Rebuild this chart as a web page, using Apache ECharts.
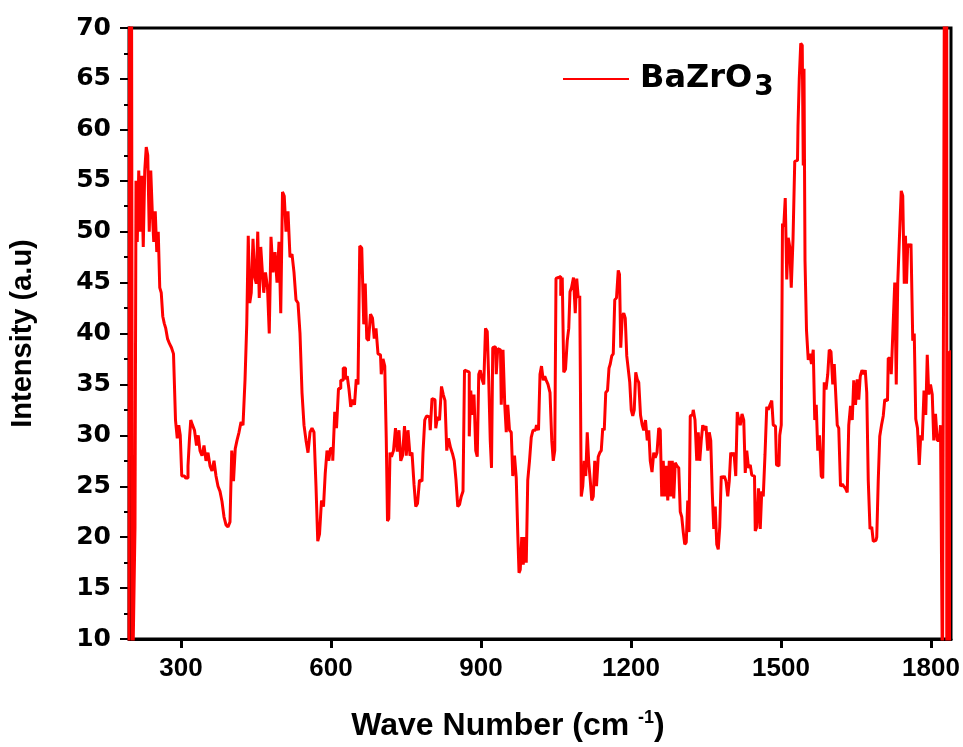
<!DOCTYPE html>
<html>
<head>
<meta charset="utf-8">
<script src="https://cdn.jsdelivr.net/npm/echarts@6/dist/echarts.min.js"></script>
<style>
  html, body { margin: 0; padding: 0; background: #fff; }
  #chart { width: 963px; height: 747px; }
</style>
</head>
<body>
<div id="chart"></div>
<script>
// wave number (cm-1)
const waveNumber = [
  196, 198, 200, 202, 204, 207, 209, 211, 214, 217, 220, 223, 226, 229, 232, 235, 238, 241, 244, 247,
  250, 253, 256, 259, 262, 265, 268, 271, 275, 279, 283, 287, 291, 294, 297, 300, 303, 307, 312, 316,
  318, 321, 325, 329, 333, 336, 340, 344, 348, 352, 356, 360, 364, 368, 372, 376, 380, 384, 388, 392,
  396, 400, 403, 407, 410, 414, 418, 422, 426, 430, 433, 436, 439, 442, 446, 449, 452, 455, 458, 461,
  464, 467, 471, 475, 478, 482, 486, 490, 494, 498, 501, 505, 508, 512, 516, 520, 524, 528, 532, 536,
  540, 544, 548, 552, 556, 560, 564, 568, 572, 575, 579, 583, 587, 590, 594, 597,
  601, 606, 609, 613, 617, 622, 627, 631, 634, 638, 641, 645, 649, 652, 656, 659, 664, 667, 670, 673,
  677, 681, 685, 688, 692, 696, 699, 702, 706, 709, 712, 714, 717, 719, 723, 727, 731, 734, 738, 741,
  745, 749, 752, 756, 760, 764, 768, 771, 775, 779, 782, 786, 789, 793, 797, 800, 804, 808, 811, 815,
  819, 823, 826, 830, 833, 837, 841, 845, 848, 852, 855, 859, 862, 866, 868, 872, 875, 878, 881, 884,
  888, 891, 894, 897, 900, 904, 907, 911, 914, 917, 920, 922, 925, 929, 932, 935, 939, 942, 946, 949,
  952, 955, 959, 962, 965, 969, 972, 975, 977, 980, 983, 986, 989, 992, 995, 999, 1002, 1006,
  1009, 1013, 1017, 1019, 1023, 1026, 1029, 1032, 1036, 1040, 1043, 1046, 1049, 1051, 1055, 1058, 1061, 1064, 1067, 1071,
  1074, 1077, 1079, 1083, 1087, 1090, 1093, 1096, 1099, 1102, 1105, 1108, 1111, 1114, 1117, 1120, 1123, 1126, 1129, 1133,
  1136, 1139, 1142, 1145, 1148, 1151, 1155, 1157, 1160, 1163, 1166, 1169, 1173, 1176, 1178, 1181, 1184, 1187, 1190, 1193,
  1196, 1199, 1202, 1205, 1208, 1211, 1214, 1217, 1221, 1224, 1227, 1231, 1234, 1237, 1240, 1244, 1247, 1250, 1254, 1257,
  1260, 1263, 1266, 1269, 1272, 1275, 1278, 1281, 1284, 1287, 1290, 1294, 1297, 1300, 1303, 1306, 1309, 1312, 1315, 1317,
  1320, 1323, 1326, 1330, 1333, 1336, 1339, 1342, 1345, 1348, 1352, 1355, 1358, 1361, 1364, 1367, 1370, 1373, 1376, 1379,
  1382, 1385, 1388, 1392, 1395, 1398, 1401, 1404, 1408, 1411, 1414,
  1417, 1420, 1424, 1427, 1430, 1433, 1437, 1440, 1443, 1447, 1450, 1453, 1457, 1460, 1463, 1466, 1470, 1473, 1476, 1480,
  1483, 1486, 1489, 1493, 1496, 1499, 1502, 1504, 1507, 1510, 1513, 1516, 1519, 1522, 1526, 1529, 1533, 1535, 1538, 1541,
  1544, 1545, 1547, 1549, 1553, 1556, 1559, 1563, 1566, 1569, 1572, 1575, 1579, 1582, 1585, 1588, 1592, 1595, 1598, 1602,
  1605, 1608, 1611, 1614, 1617, 1621, 1624, 1627, 1631, 1634, 1637, 1641, 1644, 1647, 1651, 1654, 1657, 1660, 1664, 1667,
  1670, 1673, 1676, 1680, 1683, 1686, 1690, 1693, 1696, 1699, 1703, 1706, 1709, 1713, 1716, 1719, 1722, 1726, 1729, 1732,
  1735, 1739, 1742, 1745, 1748, 1750, 1752, 1755, 1758, 1762, 1765, 1768, 1771, 1775, 1778, 1781, 1784, 1788, 1791, 1794,
  1797, 1801, 1804, 1807, 1811, 1814, 1817, 1821, 1825, 1829, 1834, 1840
];
// intensity (a.u)
const intensity = [
  5, 78, 63, 78, 5, 5, 21, 55, 49, 56, 50, 55.5, 48.5, 56, 58.3, 57.5, 50, 56, 52, 49,
  52, 48, 50, 44.5, 44, 41.7, 41, 40.5, 39.5, 39, 38.6, 38, 31.5, 29.7, 31, 30, 26, 26, 25.8, 27,
  29.7, 31.5, 31, 30.5, 29, 30, 28.5, 28, 29, 27.5, 28.3, 27, 26.5, 27.5, 26, 25, 24.5, 23.5, 22, 21.2,
  21, 21.5, 28.5, 25.5, 28.7, 29.5, 30.3, 31.3, 31, 35.4, 40.9, 49.6, 43, 44, 49.3, 45.5, 44.9, 50, 43.5, 48.5,
  46.2, 44, 46, 44.5, 40, 49.5, 46, 48, 45, 49, 42, 53.9, 53.5, 50, 52, 47.5, 47.8, 46, 43.3, 43,
  40, 34.2, 31, 29.5, 28.3, 30.3, 30.7, 30.3, 25, 19.6, 20.3, 23.6, 23, 26.3, 28.5, 27.5,
  28.7, 27.5, 32.3, 30.7, 34.6, 35.4, 36.6, 35.5, 35.8, 34.5, 32.8, 33.5, 33, 35.5, 35, 48.6, 48.4, 40.9, 44.9, 39.5,
  39.3, 41.9, 41.5, 39.5, 40.5, 38, 37.9, 36, 37.5, 36.8, 29.7, 21.6, 21.8, 28.3, 27.9, 28.5, 30.7, 28.4, 30.5, 27.5,
  28, 30.9, 28, 30.5, 28, 28.3, 25.2, 23, 23.3, 25.6, 25.5, 28.3, 31.5, 31.9, 31.8, 30.5, 33.6, 33.5, 30.7, 31.8,
  31.5, 34.8, 34, 33.4, 28.5, 29.7, 28.8, 28.2, 27.5, 25.6, 23, 23.2, 24, 24.5, 36.4, 36.3, 36.2, 29.9, 34.4, 32,
  34, 28.5, 27.9, 36, 36.4, 35.5, 35, 40.5, 40.2, 35.4, 29.5, 26.8, 38.6, 38.7, 36, 38.5, 38.4, 33, 38.4, 33,
  30.3, 33, 30.5, 30.3, 26, 28, 25.8, 20.4, 16.5, 16.8, 20, 17.3, 20, 17.5, 25.6, 27.5, 29.8, 30.5,
  30.5, 31, 30.5, 36, 36.8, 35.4, 35.8, 35.4, 35, 34.2, 29.5, 27.5, 28.5, 45.4, 45.5, 45.6, 43.7, 45.5, 36.2, 36.5,
  39.3, 40.5, 44.1, 44.5, 45.5, 42, 45.4, 43.5, 43.7, 24, 25, 27.5, 26, 30.3, 27.3, 25.6, 23.6, 24, 27.5, 25,
  27.9, 28.3, 28.5, 30.7, 30.5, 34.2, 34.4, 36.6, 37, 37.8, 38, 43.3, 43.5, 46.2, 45.8, 38.6, 41.7, 42, 41.5, 37.8,
  36.5, 35.2, 32.5, 31.9, 32.5, 36.2, 35.5, 35.2, 32, 31, 30.5, 31.5, 29.5, 30.5, 27.5, 26.4, 28.3, 27.8, 28.3, 30.7,
  30.5, 24, 27.5, 24, 27, 23.6, 27.5, 24, 27.5, 23.8, 27.3, 27, 26.8, 22.5, 22, 20.5, 19.3, 19.5, 23.6, 20.5,
  31.9, 32, 32.5, 31.5, 27.5, 30.3, 27.5, 29.5, 31, 30.5, 30.9, 28.5, 30.3, 29.5, 24.4, 20.8, 23, 19.3, 18.8, 21,
  26, 25.8, 26, 25.5, 24, 25.5, 28.3, 28, 28.3, 26, 32.3,
  31.5, 31, 32.1, 31.5, 26.3, 28.5, 26.8, 27.1, 26.1, 26, 20.6, 21, 24.8, 20.8, 24.5, 24, 28.1, 32.8, 32.5, 33,
  33.4, 31, 30.9, 27.1, 27, 30, 31, 50.8, 50.5, 53.3, 45.3, 49.4, 48.5, 44.5, 49.2, 56.9, 57, 60.4, 65, 68.5,
  68.3, 56.5, 66, 47.2, 40.3, 37.4, 38, 37, 38.4, 31.5, 33, 28.5, 30, 26, 25.8, 35.2, 34.5, 36, 38.4, 38.2,
  35, 37, 34, 31, 30.7, 25, 25.2, 25, 24.8, 24.4, 31, 32.9, 31.5, 35.4, 33, 35.5, 33.5, 35.8, 36.4, 36,
  36.4, 34.2, 25.6, 20.8, 21, 19.6, 19.7, 20, 25.6, 29.9, 31, 31.9, 33.5, 33.4, 37.6, 37.5, 36, 40.5, 45, 35,
  45, 49.6, 54, 53.5, 44.9, 49.6, 44.9, 48.8, 48.5, 48.8, 39.3, 40, 31.6, 30.7, 27.1, 30, 29.5, 34.4, 32, 37.9,
  34, 35, 34, 29.5, 32.1, 29.5, 29.5, 31, 5, 80, 5, 38.2
];
const xTicks = [300, 600, 900, 1200, 1500, 1800];
const seriesName = 'BaZrO3';

const points = waveNumber.map((w, i) => [w, intensity[i]]);

const chart = echarts.init(document.getElementById('chart'), null, { renderer: 'canvas' });

chart.setOption({
  animation: false,
  backgroundColor: '#fff',
  grid: {
    left: 125, right: 12, top: 28, bottom: 105,
    show: true, borderColor: '#000', borderWidth: 3, backgroundColor: 'transparent'
  },
  legend: {
    left: 558, top: 58,
    itemWidth: 66, itemHeight: 14, itemGap: 10,
    icon: 'path://M0,6 L66,6 L66,8 L0,8 Z',
    data: [seriesName],
    formatter: () => 'BaZrO{sub|3}',
    textStyle: {
      color: '#000', fontFamily: 'DejaVu Sans', fontWeight: 'bold', fontSize: 32, padding: [0, 0, 0, 6],
      rich: {
        sub: { fontFamily: 'DejaVu Sans', fontWeight: 'bold', fontSize: 28, color: '#000', padding: [18, 0, 0, 2] }
      }
    }
  },
  xAxis: {
    type: 'value', min: 196, max: 1840,
    name: 'Wave Number (cm {sup|-1})',
    nameLocation: 'middle', nameGap: 70,
    nameTextStyle: {
      color: '#000', fontFamily: 'Liberation Sans', fontWeight: 'bold', fontSize: 32,
      padding: [0, 64, 0, 0],
      rich: { sup: { fontFamily: 'Liberation Sans', fontWeight: 'bold', fontSize: 18, color: '#000', padding: [0, 0, 16, 0] } }
    },
    axisLine: { lineStyle: { color: '#000', width: 3 } },
    axisTick: { show: true, customValues: xTicks, length: 9, lineStyle: { color: '#000', width: 3 } },
    axisLabel: {
      customValues: xTicks, margin: 17,
      formatter: v => String(v),
      color: '#000', fontFamily: 'Liberation Sans', fontWeight: 'bold', fontSize: 26
    },
    splitLine: { show: false }
  },
  yAxis: {
    type: 'value', min: 10, max: 70, interval: 5,
    name: 'Intensity (a.u)',
    nameLocation: 'middle', nameGap: 92, nameRotate: 90,
    nameTextStyle: { color: '#000', fontFamily: 'Liberation Sans', fontWeight: 'bold', fontSize: 29 },
    axisLine: { lineStyle: { color: '#000', width: 3 } },
    axisTick: { length: 9, lineStyle: { color: '#000', width: 2 } },
    minorTick: { show: true, splitNumber: 2, length: 5, lineStyle: { color: '#000', width: 2 } },
    axisLabel: {
      margin: 18,
      color: '#000', fontFamily: 'DejaVu Sans', fontWeight: 'bold', fontSize: 25
    },
    splitLine: { show: false }
  },
  series: [{
    name: seriesName,
    type: 'line',
    data: points,
    step: 'middle',
    symbol: 'none',
    clip: true,
    color: '#ff0000',
    lineStyle: { color: '#ff0000', width: 3 }
  }]
});
</script>
</body>
</html>
